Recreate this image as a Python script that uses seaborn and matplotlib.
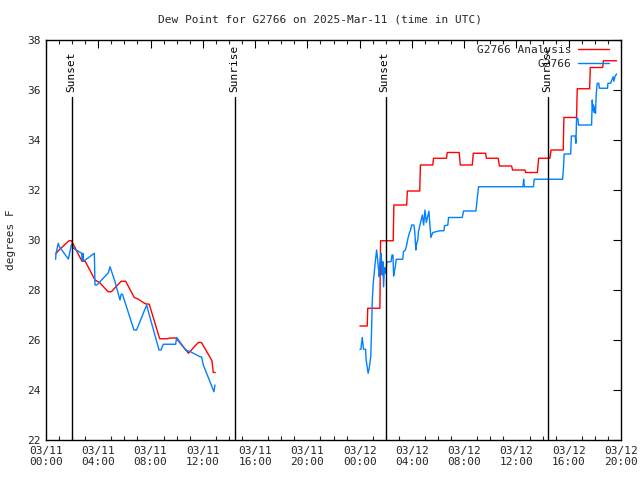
import matplotlib
matplotlib.use("Agg")
import matplotlib.pyplot as plt
import seaborn as sns
import pandas as pd
from matplotlib.ticker import MultipleLocator, FixedLocator
from matplotlib.lines import Line2D

# ---- data (hours since 2025-03-11 00:00 UTC) ----
analysis_seg1_h = [0.75, 1.0, 1.75, 1.95, 2.75, 3.0, 3.75, 4.1, 4.75, 5.0, 5.75, 6.1, 6.75, 7.0,
                   7.6, 7.9, 8.7, 9.3, 9.5, 9.95, 10.9, 11.65, 11.9, 12.7, 12.8, 12.95]
analysis_seg1_v = [29.45, 29.6, 29.97, 29.97, 29.15, 29.15, 28.4, 28.3, 27.93, 27.93, 28.35, 28.35, 27.7, 27.65,
                   27.45, 27.43, 26.05, 26.05, 26.08, 26.08, 25.47, 25.9, 25.9, 25.17, 24.7, 24.7]
analysis_seg2_h = [24.02, 24.58, 24.62, 25.55, 25.6, 26.57, 26.62, 27.6, 27.65, 28.6, 28.65, 29.6, 29.65, 30.65,
                   30.7, 31.62, 31.7, 32.62, 32.7, 33.64, 33.7, 34.6, 34.7, 35.63, 35.7, 36.65, 36.7, 37.6,
                   37.7, 38.56, 38.65, 39.58, 39.63, 40.6, 40.65, 41.6, 41.65, 42.6, 42.65, 43.66]
analysis_seg2_v = [26.56, 26.56, 27.27, 27.27, 29.97, 29.97, 31.4, 31.4, 31.96, 31.96, 33.0, 33.0, 33.27, 33.27,
                   33.5, 33.5, 33.0, 33.0, 33.47, 33.47, 33.27, 33.27, 32.96, 32.96, 32.8, 32.8, 32.7, 32.7,
                   33.27, 33.27, 33.6, 33.6, 34.9, 34.9, 36.05, 36.05, 36.9, 36.9, 37.17, 37.17]

obs_seg1_h = [0.74, 0.76, 0.94, 1.0, 1.71, 1.96, 2.09, 2.73, 2.78, 2.82, 2.86, 3.0, 3.7, 3.75, 3.9,
              4.77, 4.9, 5.28, 5.66, 5.75, 5.85, 6.73, 6.93, 7.7, 7.8, 8.65, 8.8, 8.98, 9.92, 10.0,
              10.69, 11.1, 11.78, 11.9, 12.04, 12.85, 12.93]
obs_seg1_v = [29.23, 29.45, 29.87, 29.75, 29.24, 29.84, 29.67, 29.47, 29.2, 29.47, 29.15, 29.2, 29.47, 28.2, 28.2,
              28.69, 28.93, 28.33, 27.6, 27.83, 27.83, 26.4, 26.4, 27.4, 27.2, 25.6, 25.6, 25.83, 25.83, 26.1,
              25.6, 25.52, 25.33, 25.33, 25.0, 23.93, 24.2]
obs_seg2_h = [24.02, 24.1, 24.2, 24.3, 24.45, 24.5, 24.65, 24.75, 24.85, 24.88, 24.92, 24.97, 25.05, 25.15,
              25.22, 25.3, 25.38, 25.45, 25.5, 25.55, 25.63, 25.67, 25.72, 25.78, 25.83, 25.9, 26.0, 26.08,
              26.4, 26.48, 26.55, 26.6, 26.68, 26.75, 26.8, 27.3, 27.35, 27.5, 27.6, 27.7, 27.8, 27.9, 27.98,
              28.15, 28.22, 28.3, 28.35, 28.4, 28.45, 28.5, 28.65, 28.8, 28.9, 29.0, 29.1, 29.3, 29.45, 29.6,
              30.15, 30.45, 30.5, 30.75, 30.8, 31.85, 31.95, 32.9, 33.0, 33.1, 36.5, 36.55, 36.6, 37.3, 37.36,
              39.53, 39.6, 39.65, 40.15, 40.2, 40.5, 40.55, 40.6, 40.7, 40.75, 41.75, 41.8, 41.85, 41.9, 41.95,
              42.0, 42.05, 42.1, 42.18, 42.3, 42.35, 42.97, 43.0, 43.2, 43.3, 43.4, 43.45, 43.55, 43.66]
obs_seg2_v = [25.63, 25.63, 26.1, 25.63, 25.63, 25.2, 24.67, 24.93, 25.33, 25.83, 26.53, 27.6, 28.33, 28.87,
              29.23, 29.6, 29.2, 28.8, 28.53, 29.07, 29.47, 29.2, 28.6, 29.13, 28.13, 28.9, 28.67, 29.13,
              29.13, 29.4, 29.4, 28.56, 28.8, 29.0, 29.23, 29.23, 29.53, 29.6, 29.8, 30.07, 30.27, 30.4, 30.6,
              30.6, 30.33, 29.6, 29.8, 29.93, 30.0, 30.33, 30.67, 31.0, 30.6, 31.2, 30.7, 31.15, 30.1, 30.3,
              30.37, 30.37, 30.57, 30.6, 30.9, 30.9, 31.16, 31.16, 31.67, 32.13, 32.13, 32.43, 32.13, 32.13, 32.43,
              32.43, 32.9, 33.44, 33.44, 34.16, 34.16, 33.87, 34.87, 34.87, 34.6, 34.6, 35.6, 35.2, 35.4, 35.1,
              35.3, 35.07, 35.8, 36.27, 36.27, 36.07, 36.07, 36.27, 36.27, 36.4, 36.53, 36.35, 36.55, 36.64]

sun_events_h = [2.0, 14.46, 26.0, 38.4]
sun_events_label = ["Sunset", "Sunrise", "Sunset", "Sunrise"]

xtick_hours = [0, 4, 8, 12, 16, 20, 24, 28, 32, 36, 40, 44]
xtick_labels = ["03/11\n00:00", "03/11\n04:00", "03/11\n08:00", "03/11\n12:00", "03/11\n16:00", "03/11\n20:00",
                "03/12\n00:00", "03/12\n04:00", "03/12\n08:00", "03/12\n12:00", "03/12\n16:00", "03/12\n20:00"]

title = "Dew Point for G2766 on 2025-Mar-11 (time in UTC)"
ylabel = "degrees F"
label_analysis = "G2766 Analysis"
label_obs = "G2766"

# ---- build tables ----
df_a = pd.concat([
    pd.DataFrame({"h": analysis_seg1_h, "v": analysis_seg1_v, "seg": 1}),
    pd.DataFrame({"h": analysis_seg2_h, "v": analysis_seg2_v, "seg": 2}),
])
df_o = pd.concat([
    pd.DataFrame({"h": obs_seg1_h, "v": obs_seg1_v, "seg": 1}),
    pd.DataFrame({"h": obs_seg2_h, "v": obs_seg2_v, "seg": 2}),
])

sns.set_style("white")
plt.rcParams["font.family"] = ["DejaVu Sans Mono", "DejaVu Sans"]
plt.rcParams["font.size"] = 8

fig = plt.figure(figsize=(6.4, 4.8), dpi=100)
ax = fig.add_axes([46 / 640, 40 / 480, 575 / 640, 400 / 480])

red = "#ff0000"
blue = "#0080ff"

sns.lineplot(data=df_a, x="h", y="v", units="seg", estimator=None, color=red, lw=1.0, ax=ax, sort=False)
sns.lineplot(data=df_o, x="h", y="v", units="seg", estimator=None, color=blue, lw=1.0, ax=ax, sort=False)

for h, lab in zip(sun_events_h, sun_events_label):
    ax.plot([h, h], [22, 35.7], color="black", lw=1.0)
    ax.text(h - 0.08, 35.9, lab, rotation=90, ha="center", va="bottom", fontsize=8, color="black")

ax.set_xlim(0, 44)
ax.set_ylim(22, 38)
ax.xaxis.set_major_locator(FixedLocator(xtick_hours))
ax.set_xticklabels(xtick_labels)
ax.xaxis.set_minor_locator(MultipleLocator(1))
ax.yaxis.set_major_locator(MultipleLocator(2))
ax.tick_params(axis="both", which="major", direction="in", length=6, width=0.8,
               top=True, right=True, labelsize=8, color="black", pad=4)
ax.tick_params(axis="x", which="minor", direction="in", length=3, width=0.8, top=True, bottom=True)
for s in ax.spines.values():
    s.set_color("black")
    s.set_linewidth(1.0)

ax.set_xlabel("")
ax.set_ylabel(ylabel, fontsize=8, labelpad=8)
fig.text(0.5, 1 - 19 / 480, title, ha="center", va="center", fontsize=8)

handles = [Line2D([], [], color=red, lw=1.0), Line2D([], [], color=blue, lw=1.0)]
ax.legend(handles, [label_analysis, label_obs], loc="upper right", frameon=False, markerfirst=False,
          bbox_to_anchor=(1 - 7 / 575, 1),
          handlelength=2.8, handletextpad=0.6, labelspacing=0.33, borderpad=0.1, borderaxespad=0.35,
          fontsize=8)

fig.savefig("out.png", dpi=100)
